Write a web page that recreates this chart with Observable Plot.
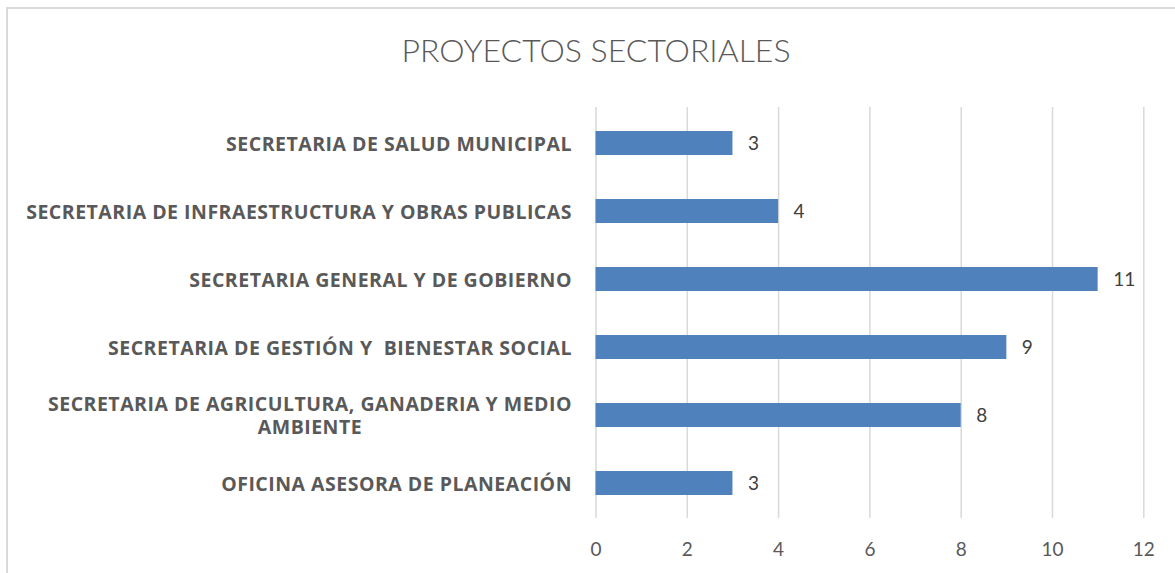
<!DOCTYPE html>
<html>
<head>
<meta charset="utf-8">
<script src="https://cdn.jsdelivr.net/npm/d3@7"></script>
<script src="https://cdn.jsdelivr.net/npm/@observablehq/plot@0.6"></script>
<style>
  html, body { margin: 0; padding: 0; background: #ffffff; }
  body { position: relative; width: 1175px; height: 573px; overflow: hidden; font-family: Lato, "Open Sans", sans-serif; }
  #frame { position: absolute; left: 6px; top: 7px; width: 1200px; height: 600px; border-top: 2px solid #d9d9d9; border-left: 2px solid #d9d9d9; box-sizing: border-box; }
  #title { position: absolute; left: 6px; width: 1180px; top: 34px; height: 32px; line-height: 32px; text-align: center; font-size: 32px; font-weight: 300; color: #595959; }
  #chart { position: absolute; left: 0; top: 100px; }
  #chart g[aria-label='y-axis tick label'] { letter-spacing: 0.5px; }
</style>
</head>
<body>
<div id="frame"></div>
<div id="title">PROYECTOS SECTORIALES</div>
<div id="chart"></div>
<script>
const categories = [
  "SECRETARIA DE SALUD MUNICIPAL",
  "SECRETARIA DE INFRAESTRUCTURA Y OBRAS PUBLICAS",
  "SECRETARIA GENERAL Y DE GOBIERNO",
  "SECRETARIA DE GESTIÓN Y  BIENESTAR SOCIAL",
  "SECRETARIA DE AGRICULTURA, GANADERIA Y MEDIO AMBIENTE",
  "OFICINA ASESORA DE PLANEACIÓN"
];
const categoryLabels = [
  "SECRETARIA DE SALUD MUNICIPAL",
  "SECRETARIA DE INFRAESTRUCTURA Y OBRAS PUBLICAS",
  "SECRETARIA GENERAL Y DE GOBIERNO",
  "SECRETARIA DE GESTIÓN Y  BIENESTAR SOCIAL",
  "SECRETARIA DE AGRICULTURA, GANADERIA Y MEDIO\nAMBIENTE",
  "OFICINA ASESORA DE PLANEACIÓN"
];
const values = [3, 4, 11, 9, 8, 3];
const xTicks = [0, 2, 4, 6, 8, 10, 12];

const data = categories.map((c, i) => ({category: c, value: values[i]}));
const labelOf = new Map(categories.map((c, i) => [c, categoryLabels[i]]));

const chart = Plot.plot({
  width: 1175,
  height: 473,
  marginLeft: 595.5,
  marginRight: 31.7,
  marginTop: 7,
  marginBottom: 55,
  style: {fontFamily: "Lato, 'Open Sans', sans-serif", background: "transparent", overflow: "visible"},
  x: {domain: [0, 12], ticks: xTicks, label: null},
  y: {domain: categories, paddingInner: 0.65, paddingOuter: 0.325, label: null},
  marks: [
    Plot.gridX(xTicks, {stroke: "#d9d9d9", strokeOpacity: 1, strokeWidth: 1.5}),
    Plot.barX(data, {x: "value", y: "category", fill: "#4f81bd"}),
    Plot.text(data, {x: "value", y: "category", text: d => String(d.value), textAnchor: "start", dx: 15, fontSize: 19, fill: "#404040"}),
    Plot.axisX(xTicks, {tickSize: 0, tickPadding: 24, fontSize: 19, color: "#595959", label: null}),
    Plot.axisY({tickSize: 0, tickPadding: 24, fontSize: 19.5, fontWeight: "bold", fontFamily: "'Open Sans', Lato, sans-serif", color: "#595959", lineHeight: 1.15, tickFormat: d => labelOf.get(d), label: null})
  ]
});
document.getElementById("chart").appendChild(chart);

// center multi-line category labels (second line centered under first)
chart.querySelectorAll("g[aria-label='y-axis tick label'] text").forEach(t => {
  const spans = t.querySelectorAll("tspan");
  if (spans.length > 1) {
    let w = 0;
    spans.forEach(s => { w = Math.max(w, s.getComputedTextLength()); });
    t.setAttribute("text-anchor", "middle");
    spans.forEach(s => s.setAttribute("x", -w / 2));
  }
});
</script>
</body>
</html>
